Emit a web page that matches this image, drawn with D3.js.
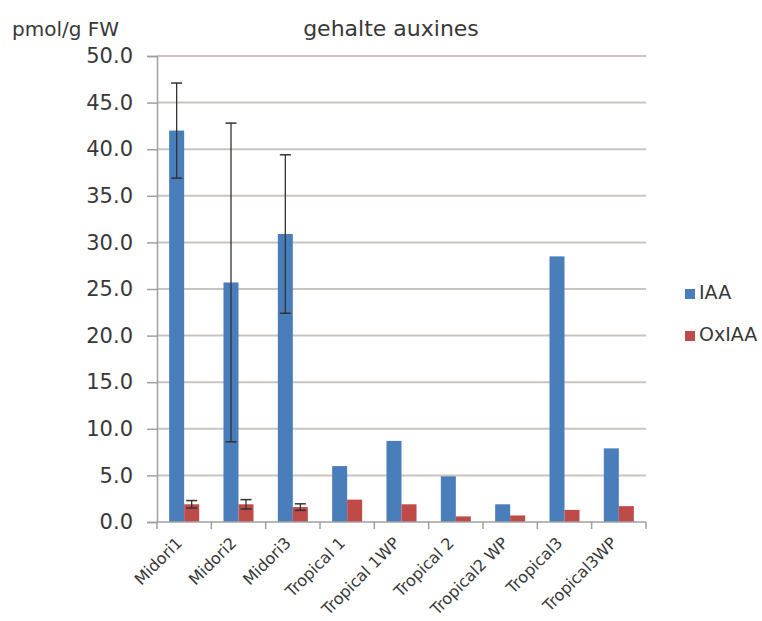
<!DOCTYPE html>
<html><head><meta charset="utf-8">
<script src="https://cdn.jsdelivr.net/npm/d3@7"></script>
<style>body{margin:0;background:#fff;} svg{display:block;}</style>
</head><body>
<svg id="chart" width="762" height="621"></svg>
<script>
const categories = ["Midori1","Midori2","Midori3","Tropical 1","Tropical 1WP","Tropical 2","Tropical2 WP","Tropical3","Tropical3WP"];
const seriesNames = ["IAA","OxIAA"];
const iaaValues   = [42.0, 25.7, 30.9, 6.0, 8.7, 4.9, 1.9, 28.5, 7.9];
const iaaErrors   = [5.1, 17.1, 8.5, null, null, null, null, null, null];
const oxiaaValues = [1.9, 1.9, 1.6, 2.4, 1.9, 0.6, 0.7, 1.3, 1.7];
const oxiaaErrors = [0.4, 0.5, 0.35, null, null, null, null, null, null];
const yTicks = [0,5,10,15,20,25,30,35,40,45,50];
const colors = ["#4a7ebb","#be4b48"];

(function(){
const svg = d3.select("#chart");
const font = "'DejaVu Sans', sans-serif";
const textColor = "#383838";
const pLeft = 157, pRight = 646, pTop = 56, pBottom = 522;

const y = d3.scaleLinear().domain([0,50]).range([pBottom, pTop]);
const x0 = d3.scaleBand().domain(categories).range([pLeft, pRight]).paddingInner(0).paddingOuter(0);
const x1 = d3.scaleBand().domain(seriesNames).range([0, x0.bandwidth()]).paddingOuter(0.81).paddingInner(0);

// gridlines
svg.append("g").selectAll("line").data(yTicks.filter(d=>d>0)).join("line")
  .attr("x1", pLeft).attr("x2", pRight)
  .attr("y1", d=>y(d)).attr("y2", d=>y(d))
  .attr("stroke", "#cbc3c0").attr("stroke-width", 2);

// y axis
const yAxis = d3.axisLeft(y).tickValues(yTicks).tickFormat(d3.format(".1f")).tickSize(10).tickPadding(14);
const gy = svg.append("g").attr("transform", `translate(${pLeft},0)`).call(yAxis);
gy.select(".domain").attr("stroke", "#a0a0a0").attr("stroke-width", 1.5);
gy.selectAll(".tick line").attr("stroke", "#a0a0a0").attr("stroke-width", 1.5);
gy.selectAll(".tick text").attr("font-family", font).attr("font-size", 21).attr("fill", textColor);

const data = categories.map((c,i)=>({cat:c, vals:[
  {s:"IAA", v:iaaValues[i], e:iaaErrors[i]},
  {s:"OxIAA", v:oxiaaValues[i], e:oxiaaErrors[i]}
]}));

// bars
const groups = svg.append("g").selectAll("g").data(data).join("g")
  .attr("transform", d=>`translate(${x0(d.cat)},0)`);
groups.selectAll("rect").data(d=>d.vals).join("rect")
  .attr("x", d=>x1(d.s)).attr("width", x1.bandwidth())
  .attr("y", d=>y(d.v)).attr("height", d=>y(0)-y(d.v))
  .attr("fill", (d,i)=>colors[i]);

// error bars
const eb = groups.selectAll("g.err").data(d=>d.vals.filter(v=>v.e!=null)).join("g").attr("class","err");
const cx = d=>x1(d.s)+x1.bandwidth()/2;
eb.append("line").attr("x1", cx).attr("x2", cx)
  .attr("y1", d=>y(d.v+d.e)).attr("y2", d=>y(d.v-d.e))
  .attr("stroke", "#333").attr("stroke-width", 1.3);
[1,-1].forEach(sg=>{
  eb.append("line").attr("x1", d=>cx(d)-5.5).attr("x2", d=>cx(d)+5.5)
    .attr("y1", d=>y(d.v+sg*d.e)).attr("y2", d=>y(d.v+sg*d.e))
    .attr("stroke", "#333").attr("stroke-width", 1.5);
});

// x axis
const gx = svg.append("g").attr("transform", `translate(0,${pBottom})`);
gx.append("line").attr("x1", pLeft).attr("x2", pRight).attr("y1",0).attr("y2",0)
  .attr("stroke", "#a0a0a0").attr("stroke-width", 1.5);
const tickPos = [pLeft].concat(categories.map(c=>x0(c)+x0.bandwidth()));
gx.selectAll("line.t").data(tickPos).join("line").attr("class","t")
  .attr("x1", d=>d).attr("x2", d=>d).attr("y1",0).attr("y2",7)
  .attr("stroke", "#a0a0a0").attr("stroke-width", 1.5);
gx.selectAll("text").data(categories).join("text")
  .attr("transform", d=>`translate(${x0(d)+x0.bandwidth()/2-1},${22}) rotate(-45)`)
  .attr("text-anchor","end").attr("font-family", font).attr("font-size", 16)
  .attr("fill", textColor).text(d=>d);

// title & unit
svg.append("text").attr("x", 391).attr("y", 36).attr("text-anchor","middle")
  .attr("font-family", font).attr("font-size", 22).attr("fill", textColor).text("gehalte auxines");
svg.append("text").attr("x", 12).attr("y", 36)
  .attr("font-family", font).attr("font-size", 20).attr("fill", textColor).text("pmol/g FW");

// legend
const lg = svg.append("g").selectAll("g").data(seriesNames).join("g")
  .attr("transform", (d,i)=>`translate(685,${289+i*42})`);
lg.append("rect").attr("width",10).attr("height",10).attr("fill",(d,i)=>colors[i]);
lg.append("text").attr("x", 14).attr("y", 10).attr("font-family", font).attr("font-size", 19)
  .attr("fill", textColor).text(d=>d);
})();
</script>
</body></html>
